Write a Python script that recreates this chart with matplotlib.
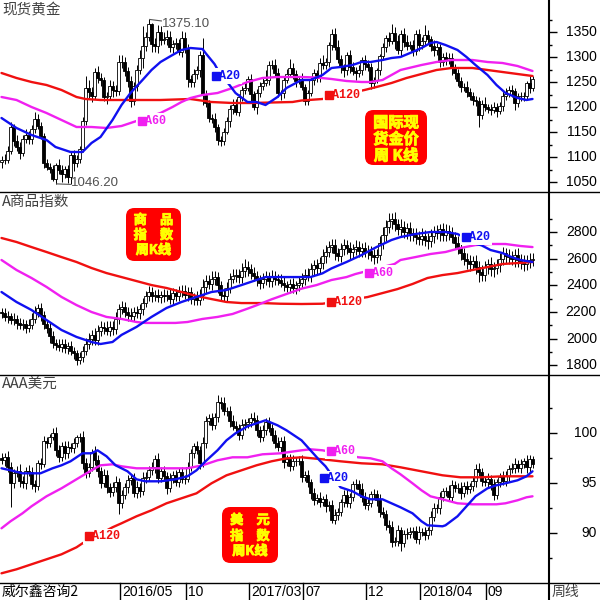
import numpy as np
import pandas as pd
import matplotlib
matplotlib.use("Agg")
import matplotlib.pyplot as plt
from matplotlib.patches import FancyBboxPatch
from matplotlib.lines import Line2D
import matplotlib.patheffects as pe

plt.rcParams["font.family"] = ["Noto Sans CJK SC", "DejaVu Sans"]

# ---------------- data (weekly bars, first week ends 2015-07-31) ----------------
first_week = "2015-07-31"

gold_open0 = 1090
gold_close = [1094, 1094, 1113, 1160, 1133, 1121, 1108, 1137, 1145, 1137,
              1156, 1177, 1162, 1142, 1088, 1081, 1076, 1057, 1084, 1075,
              1066, 1076, 1061, 1104, 1089, 1097, 1117, 1173, 1239, 1231,
              1222, 1271, 1259, 1255, 1220, 1222, 1243, 1234, 1232, 1291,
              1290, 1273, 1252, 1212, 1243, 1275, 1298, 1322, 1340, 1366,
              1327, 1323, 1350, 1335, 1336, 1341, 1321, 1326, 1328, 1310,
              1338, 1316, 1257, 1251, 1267, 1275, 1304, 1225, 1208, 1178,
              1177, 1160, 1134, 1132, 1151, 1173, 1196, 1204, 1191, 1220,
              1234, 1238, 1257, 1226, 1201, 1229, 1243, 1249, 1254, 1285,
              1284, 1268, 1228, 1228, 1254, 1267, 1279, 1266, 1253, 1256,
              1241, 1212, 1228, 1254, 1269, 1258, 1289, 1285, 1291, 1325,
              1346, 1320, 1297, 1280, 1275, 1304, 1280, 1272, 1269, 1274,
              1294, 1287, 1280, 1248, 1255, 1275, 1303, 1320, 1338, 1332,
              1349, 1333, 1315, 1347, 1330, 1322, 1324, 1313, 1347, 1325,
              1332, 1345, 1336, 1323, 1314, 1320, 1291, 1301, 1294, 1298,
              1278, 1269, 1252, 1241, 1241, 1231, 1223, 1214, 1212, 1184,
              1206, 1201, 1197, 1194, 1200, 1192, 1203, 1222, 1227, 1234,
              1232, 1209, 1222, 1223, 1222, 1248, 1238, 1257]
gold_up = [8, 12, 10, 10, 6, 12, 9, 8, 11, 7,
           8, 14, 10, 8, 6, 9, 7, 8, 5, 12,
           9, 6, 8, 8, 11, 8, 6, 7, 24, 15,
           10, 8, 12, 10, 6, 8, 12, 9, 10, 14,
           14, 10, 8, 10, 8, 10, 17, 40, 11, 9.1,
           3, 12, 15, 12, 15, 13, 12, 9, 10, 8,
           14, 12, 10, 8, 9, 8, 9, 34, 10, 7,
           9, 11, 7, 8, 7, 8, 8, 12, 12, 6,
           8, 10, 6, 10, 7, 7, 8, 12, 20, 8,
           9, 12, 10, 6, 9, 9, 17, 10, 8, 7,
           12, 6, 7, 6, 8, 6, 9, 15, 7, 5,
           11, 12, 14, 8, 6, 6, 10, 10, 8, 10,
           6, 10, 8, 8, 6, 4, 4, 8, 6, 12,
           17, 12, 12, 8, 11, 14, 8, 10, 8, 9,
           8, 20, 10, 7, 12, 8, 6, 7, 9, 10,
           10, 8, 8, 8, 7, 12, 8, 7, 8, 8,
           8, 14, 6, 9, 10, 9, 8, 11, 12, 9,
           11, 6, 7, 8, 8, 4, 14, 6]
gold_dn = [12, 8, 6, 6, 10, 8, 12, 6, 8, 10,
           10, 8, 6, 6, 10, 7, 8, 4, 10.8, 8,
           15, 8, 12, 14, 16, 8, 8, 6, 8, 12,
           12, 6, 10, 12, 8, 14, 6, 14, 10, 8,
           12, 10, 12, 12, 7, 10, 8, 20, 10, 8,
           17, 12, 14, 10, 8, 12, 10, 12, 10, 6,
           10, 8, 16, 10, 10, 10, 14, 20, 8, 8,
           9, 10, 10, 10, 7, 5, 12, 10, 7, 8,
           8, 8, 6, 14, 6, 14, 8, 8, 6, 10,
           8, 8, 8, 14, 10, 6, 6, 10, 12, 6,
           6, 8, 8, 6, 10, 8, 8, 8, 9, 10,
           10, 6, 8, 12, 15, 10, 12, 8, 14, 8,
           10, 12, 8, 12, 10, 6, 10, 8, 10, 10,
           6, 16, 8, 12, 10, 8, 6, 10, 8, 12,
           8, 10, 10, 10, 12, 10, 10, 8, 10, 8,
           14, 12, 10, 10, 8, 10, 8, 10, 10, 24,
           8, 8, 8, 10, 6, 12, 6, 10, 8, 6,
           12, 14, 8, 10, 10, 6, 10, 6]
gold_peak_week, gold_peak = 49, 1375.10
gold_low_week, gold_low = 18, 1046.20

gold_ma20_wk = [0, 5, 10, 15, 18, 23, 27, 30, 33, 37, 40, 43, 47, 50, 53, 57, 60, 63, 67, 68,
                71, 73, 76, 78, 82, 85, 88, 92, 95, 100, 103, 107, 110, 113, 117, 120, 123,
                127, 130, 133, 137, 140, 143, 145, 148, 152, 155, 158, 162, 165, 168, 172,
                175, 177]
gold_ma20 = [1178, 1158, 1144, 1134, 1120, 1110, 1110, 1128, 1140, 1174, 1204, 1228, 1254,
             1274, 1290, 1304, 1314, 1318, 1316, 1308, 1286, 1265, 1244, 1228, 1210, 1210,
             1204, 1220, 1238, 1254, 1254, 1264, 1278, 1280, 1284, 1290, 1290, 1294, 1298,
             1300, 1310, 1318, 1328, 1330, 1324, 1314, 1300, 1284, 1264, 1244, 1228, 1218,
             1214, 1216]
gold_ma60_wk = [0, 5, 10, 15, 20, 25, 30, 35, 40, 43, 48, 53, 57, 60, 63, 67, 72, 77, 82, 87,
                92, 97, 100, 105, 110, 115, 120, 123, 127, 130, 133, 140, 145, 150, 157, 162,
                167, 172, 177]
gold_ma60 = [1220, 1214, 1200, 1188, 1174, 1160, 1160, 1158, 1162, 1168, 1178, 1188, 1200,
             1210, 1218, 1224, 1228, 1238, 1250, 1258, 1260, 1260, 1260, 1259, 1256, 1252,
             1250, 1250, 1254, 1264, 1274, 1284, 1290, 1294, 1294, 1290, 1288, 1282, 1272]
gold_ma120_wk = [0, 5, 10, 15, 20, 25, 28, 33, 43, 53, 63, 70, 77, 83, 90, 97, 100, 107, 114,
                 121, 125, 130, 135, 140, 145, 150, 157, 162, 167, 172, 177]
gold_ma120 = [1268, 1258, 1250, 1244, 1234, 1220, 1216, 1214, 1214, 1214, 1216, 1210, 1208,
              1208, 1209, 1210, 1213, 1216, 1225, 1234, 1240, 1248, 1258, 1266, 1274, 1278,
              1278, 1274, 1270, 1266, 1262]

cmd_open0 = 2200
cmd_close = [2190, 2160, 2170, 2140, 2150, 2120, 2100, 2110, 2080, 2100,
             2150, 2200, 2230, 2180, 2110, 2080, 2020, 1970, 1950, 1940,
             1960, 1930, 1945, 1910, 1890, 1840, 1860, 1910, 1960, 2000,
             2030, 1990, 2060, 2090, 2080, 2060, 2090, 2070, 2150, 2220,
             2240, 2200, 2180, 2170, 2200, 2190, 2220, 2270, 2320, 2350,
             2320, 2330, 2310, 2330, 2320, 2330, 2300, 2340, 2320, 2350,
             2360, 2330, 2350, 2300, 2310, 2290, 2330, 2390, 2430, 2410,
             2450, 2460, 2400, 2330, 2320, 2380, 2450, 2470, 2480, 2460,
             2510, 2540, 2520, 2490, 2470, 2440, 2420, 2450, 2460, 2430,
             2470, 2450, 2440, 2420, 2400, 2390, 2410, 2380, 2400, 2420,
             2450, 2480, 2470, 2520, 2550, 2530, 2570, 2620, 2650, 2690,
             2700, 2640, 2620, 2670, 2700, 2680, 2650, 2670, 2690, 2660,
             2680, 2650, 2660, 2630, 2610, 2630, 2720, 2780, 2840, 2880,
             2900, 2860, 2820, 2840, 2800, 2830, 2790, 2780, 2760, 2750,
             2770, 2740, 2730, 2770, 2800, 2790, 2820, 2780, 2810, 2790,
             2760, 2720, 2690, 2640, 2600, 2580, 2560, 2580, 2540, 2500,
             2480, 2540, 2560, 2520, 2530, 2550, 2600, 2640, 2620, 2610,
             2600, 2630, 2590, 2570, 2560, 2580, 2590, 2600]
cmd_up = [30, 40, 35, 25, 45, 30, 35, 40, 30, 50,
          40, 45, 30, 35, 25, 30, 40, 35, 30, 45,
          35, 40, 30, 35, 30, 25, 40, 35, 45, 40,
          35, 50, 40, 45, 35, 50, 40, 45, 50, 40,
          45, 35, 40, 50, 35, 45, 40, 35, 40, 45,
          40, 35, 45, 30, 40, 35, 50, 40, 35, 45,
          40, 45, 35, 40, 30, 45, 40, 55, 50, 45,
          60, 45, 40, 35, 50, 45, 40, 50, 45, 40,
          55, 60, 45, 40, 45, 35, 40, 45, 50, 40,
          45, 40, 35, 45, 40, 35, 40, 45, 35, 40,
          45, 40, 50, 45, 40, 50, 45, 50, 55, 45,
          50, 45, 40, 50, 45, 40, 45, 40, 50, 45,
          40, 45, 40, 35, 40, 45, 50, 55, 50, 60,
          45, 50, 40, 55, 45, 40, 45, 40, 50, 45,
          60, 45, 50, 55, 45, 50, 40, 45, 50, 40,
          45, 40, 50, 45, 40, 45, 50, 40, 45, 40,
          50, 45, 40, 55, 45, 50, 40, 45, 40, 50,
          45, 40, 50, 45, 60, 45, 50, 40]
cmd_dn = [35, 30, 40, 30, 35, 45, 30, 35, 40, 30,
          30, 35, 40, 45, 40, 35, 50, 40, 35, 30,
          40, 35, 45, 30, 40, 35, 30, 35, 30, 40,
          45, 40, 35, 40, 45, 35, 40, 45, 35, 40,
          35, 40, 45, 35, 40, 35, 40, 45, 35, 40,
          45, 40, 35, 40, 45, 35, 40, 45, 35, 40,
          40, 35, 45, 40, 45, 40, 35, 40, 45, 40,
          45, 50, 55, 45, 40, 45, 40, 35, 45, 40,
          40, 45, 50, 45, 40, 45, 50, 40, 45, 40,
          40, 45, 40, 35, 45, 40, 45, 40, 45, 40,
          40, 45, 40, 45, 40, 45, 40, 45, 50, 40,
          45, 50, 40, 45, 40, 45, 50, 45, 40, 45,
          45, 40, 50, 45, 50, 45, 40, 45, 50, 45,
          55, 50, 45, 50, 45, 50, 55, 45, 50, 45,
          50, 45, 55, 45, 50, 45, 55, 50, 45, 50,
          45, 50, 55, 50, 45, 60, 50, 45, 55, 75,
          50, 45, 55, 50, 60, 45, 50, 45, 55, 50,
          45, 60, 50, 45, 55, 45, 50, 45]

cmd_ma20_wk = [0, 5, 10, 15, 20, 25, 30, 33, 37, 40, 45, 50, 55, 60, 65, 70, 75, 80, 85, 88,
               93, 100, 103, 107, 110, 115, 120, 125, 130, 133, 138, 143, 148, 152, 155, 157,
               160, 163, 167, 170, 173, 177]
cmd_ma20 = [2350, 2275, 2215, 2140, 2065, 2013, 1975, 1960, 1975, 2028, 2088, 2163, 2230,
            2275, 2313, 2350, 2365, 2402, 2440, 2462, 2462, 2462, 2462, 2490, 2527, 2575,
            2627, 2687, 2740, 2762, 2785, 2800, 2800, 2785, 2750, 2717, 2700, 2665, 2642,
            2612, 2590, 2575]
cmd_ma60_wk = [0, 5, 10, 15, 20, 25, 30, 35, 40, 45, 48, 53, 58, 62, 67, 72, 77, 82, 85, 90,
               95, 100, 105, 110, 115, 118, 131, 133, 138, 143, 148, 153, 158, 163, 168, 173,
               177]
cmd_ma60 = [2590, 2515, 2455, 2388, 2313, 2252, 2200, 2163, 2148, 2125, 2118, 2118, 2118,
            2125, 2148, 2163, 2185, 2225, 2250, 2295, 2335, 2375, 2402, 2440, 2462, 2485,
            2560, 2590, 2612, 2635, 2650, 2680, 2702, 2710, 2710, 2695, 2687]
cmd_ma120_wk = [0, 5, 10, 15, 20, 25, 30, 35, 40, 45, 50, 55, 60, 65, 70, 75, 80, 87, 93, 100,
                107, 122, 127, 132, 137, 142, 147, 152, 157, 162, 167, 172, 177]
cmd_ma120 = [2755, 2725, 2687, 2650, 2612, 2575, 2530, 2492, 2462, 2432, 2402, 2380, 2350,
             2320, 2297, 2275, 2267, 2267, 2262, 2260, 2262, 2312, 2342, 2372, 2410, 2455,
             2477, 2492, 2515, 2537, 2560, 2567, 2575]

usd_open0 = 97.5
usd_close = [97.3, 97.6, 96.6, 95.0, 96.0, 96.2, 95.2, 95.0, 96.2, 96.1,
             94.9, 94.7, 97.0, 96.9, 99.2, 99.0, 99.6, 100.0, 98.3, 97.6,
             98.7, 98.0, 98.6, 98.5, 99.0, 99.6, 99.6, 97.0, 96.0, 96.6,
             98.1, 97.3, 96.2, 95.0, 95.8, 94.6, 94.1, 94.6, 95.1, 93.0,
             93.8, 94.6, 95.3, 95.5, 94.0, 94.6, 94.2, 95.5, 95.6, 96.3,
             96.6, 97.4, 95.5, 96.2, 95.7, 94.5, 95.5, 95.8, 95.1, 96.1,
             95.4, 95.4, 96.6, 98.0, 98.7, 98.3, 97.0, 99.0, 101.2, 101.5,
             100.8, 101.6, 103.1, 103.0, 102.2, 102.2, 101.2, 100.7, 100.5, 99.8,
             100.8, 100.9, 101.1, 101.5, 101.3, 100.3, 99.6, 100.3, 101.1, 100.5,
             99.8, 99.0, 98.6, 99.2, 97.1, 97.4, 96.7, 97.2, 97.2, 97.2,
             95.6, 95.8, 95.1, 94.0, 93.3, 93.5, 93.1, 93.4, 92.7, 92.8,
             91.3, 91.8, 92.1, 93.1, 93.8, 93.0, 93.6, 94.9, 94.9, 94.4,
             93.6, 92.8, 93.0, 93.9, 93.9, 93.3, 92.1, 91.9, 90.8, 90.6,
             89.1, 89.2, 90.3, 89.0, 89.9, 89.9, 90.1, 90.2, 89.4, 90.1,
             90.1, 89.8, 90.3, 91.6, 92.5, 92.5, 93.6, 94.2, 94.2, 93.6,
             94.8, 94.5, 94.5, 94.0, 94.7, 94.4, 94.7, 95.2, 96.4, 96.1,
             95.2, 95.1, 95.4, 94.9, 93.8, 95.1, 95.6, 95.2, 95.7, 96.4,
             96.5, 96.9, 96.5, 96.9, 97.2, 96.6, 97.4, 96.9]
usd_up = [0.5, 0.4, 0.6, 0.5, 0.4, 0.5, 0.7, 0.5, 0.4, 0.6,
          0.5, 0.4, 0.3, 0.5, 0.5, 0.4, 0.3, 0.5, 0.6, 0.5,
          0.4, 0.5, 0.6, 0.4, 0.5, 0.2, 0.4, 0.6, 0.5, 0.4,
          0.3, 0.6, 0.5, 0.4, 0.6, 0.5, 0.4, 0.5, 0.6, 0.4,
          0.5, 0.4, 0.5, 0.3, 0.5, 0.6, 0.4, 0.6, 0.5, 0.4,
          0.5, 0.4, 0.6, 0.4, 0.5, 0.4, 0.5, 0.4, 0.5, 0.4,
          0.5, 0.4, 0.5, 0.4, 0.3, 0.5, 0.4, 0.6, 0.5, 0.4,
          0.5, 0.4, 0.7, 0.5, 0.6, 0.4, 0.5, 0.6, 0.5, 0.4,
          0.6, 0.5, 0.4, 0.5, 0.6, 0.5, 0.4, 0.5, 0.4, 0.5,
          0.4, 0.5, 0.6, 0.4, 0.5, 0.4, 0.5, 0.6, 0.4, 0.5,
          0.6, 0.4, 0.5, 0.3, 0.5, 0.4, 0.6, 0.3, 0.5, 0.4,
          0.5, 0.6, 0.4, 0.3, 0.5, 0.6, 0.4, 0.3, 0.5, 0.4,
          0.6, 0.5, 0.4, 0.3, 0.5, 0.4, 0.6, 0.5, 0.4, 0.5,
          0.6, 0.4, 0.5, 0.3, 0.4, 0.6, 0.5, 0.4, 0.5, 0.6,
          0.4, 0.5, 0.3, 0.6, 0.5, 0.4, 0.5, 0.3, 0.4, 0.6,
          0.5, 0.4, 0.5, 0.6, 0.4, 0.5, 0.3, 0.4, 0.5, 0.6,
          0.4, 0.5, 0.6, 0.4, 0.5, 0.3, 0.4, 0.6, 0.5, 0.4,
          0.5, 0.6, 0.4, 0.5, 0.3, 0.6, 0.4, 0.3]
usd_dn = [0.4, 0.6, 0.5, 2.4, 0.5, 0.4, 0.6, 0.5, 0.6, 0.4,
          0.5, 0.6, 0.4, 0.5, 0.3, 0.5, 0.4, 0.3, 0.6, 0.5,
          0.4, 0.6, 0.5, 0.4, 0.5, 0.4, 0.5, 0.6, 0.5, 0.4,
          0.4, 0.5, 0.6, 0.5, 0.4, 0.6, 0.5, 0.4, 0.5, 1.1,
          0.5, 0.4, 0.6, 0.5, 0.4, 0.5, 0.6, 0.4, 0.5, 0.4,
          0.5, 0.6, 0.5, 0.4, 0.5, 0.6, 0.4, 0.5, 0.4, 0.5,
          0.4, 0.5, 0.3, 0.4, 0.5, 0.4, 0.6, 0.4, 0.5, 0.4,
          0.5, 0.4, 0.5, 0.6, 0.4, 0.5, 0.6, 0.4, 0.5, 0.5,
          0.4, 0.5, 0.4, 0.5, 0.4, 0.6, 0.5, 0.4, 0.5, 0.4,
          0.6, 0.5, 0.4, 0.5, 0.6, 0.4, 0.5, 0.4, 0.5, 0.4,
          0.5, 0.4, 0.5, 0.6, 0.5, 0.4, 0.5, 0.4, 0.6, 0.5,
          0.3, 0.4, 0.5, 0.4, 0.5, 0.4, 0.5, 0.4, 0.5, 0.6,
          0.5, 0.4, 0.5, 0.4, 0.5, 0.6, 0.5, 0.4, 0.5, 0.6,
          0.5, 0.4, 0.5, 0.75, 0.4, 0.5, 0.4, 0.6, 0.4, 0.5,
          0.4, 0.5, 0.4, 0.5, 0.4, 0.5, 0.6, 0.4, 0.5, 0.4,
          0.5, 0.4, 0.5, 0.6, 0.4, 0.5, 0.4, 0.5, 0.6, 0.4,
          0.5, 0.4, 0.5, 0.6, 0.5, 0.4, 0.5, 0.4, 0.5, 0.6,
          0.4, 0.5, 0.4, 0.5, 0.4, 0.6, 0.5, 0.4]

usd_ma20_wk = [0, 3, 7, 10, 13, 17, 20, 23, 27, 30, 32, 35, 38, 42, 45, 48, 53, 58, 62, 65,
               68, 72, 75, 78, 82, 85, 88, 92, 95, 100, 103, 106, 108, 113, 117, 120, 123,
               127, 130, 133, 137, 140, 142, 147, 148, 152, 155, 158, 162, 165, 168, 172,
               175, 177]
usd_ma20 = [96.5, 96.3, 96.0, 96.0, 96.0, 96.5, 96.8, 97.2, 98.0, 98.0, 98.3, 97.7, 96.8,
            96.2, 95.4, 95.2, 95.2, 95.4, 95.7, 96.3, 97.2, 98.3, 99.3, 100.0, 100.7, 101.0,
            101.3, 100.8, 100.3, 99.3, 98.3, 97.3, 96.7, 94.6, 94.2, 93.7, 93.4, 93.4, 93.0,
            92.6, 92.0, 91.2, 90.8, 90.7, 90.8, 91.7, 92.7, 93.7, 94.5, 94.8, 95.0, 95.3,
            95.7, 96.2]
usd_ma60_wk = [0, 3, 7, 10, 15, 20, 25, 30, 33, 37, 40, 45, 50, 57, 62, 67, 72, 77, 82, 87,
               93, 100, 103, 107, 119, 123, 127, 130, 133, 137, 140, 143, 147, 152, 157, 162,
               165, 168, 172, 175, 177]
usd_ma60 = [90.5, 91.2, 92.0, 92.7, 93.7, 94.5, 95.4, 96.3, 96.8, 96.9, 96.7, 96.5, 96.5,
            96.5, 96.5, 96.8, 97.3, 97.6, 97.6, 97.9, 98.0, 98.3, 98.4, 98.3, 97.6, 97.5,
            97.2, 96.5, 95.9, 95.0, 94.3, 93.7, 93.4, 93.0, 92.9, 92.9, 92.9, 93.0, 93.3,
            93.6, 93.7]
usd_ma120_wk = [0, 5, 10, 15, 20, 25, 27, 37, 40, 45, 50, 55, 60, 65, 70, 75, 80, 85, 90, 95,
                100, 107, 113, 120, 127, 133, 140, 147, 153, 160, 167, 173, 177]
usd_ma120 = [86.0, 86.4, 86.9, 87.4, 87.9, 88.6, 89.0, 90.6, 91.0, 91.7, 92.3, 93.0, 93.5,
             94.0, 95.0, 95.8, 96.3, 96.8, 97.2, 97.5, 97.6, 97.4, 97.2, 97.0, 96.9, 96.6,
             96.2, 95.8, 95.6, 95.6, 95.7, 95.7, 95.7]

date_marks = ["2016-05", "2016-10", "2017-03", "2017-07", "2017-12", "2018-04", "2018-09"]
date_texts = ["2016/05", "10", "2017/03", "07", "12", "2018/04", "09"]

# ---------------- layout (pixel geometry of the 600x600 picture) ----------------
W = H = 600
RIGHT = 549
C_BLUE, C_MAG, C_RED = "#1010f0", "#f020f0", "#f01010"
MA_FONT = ["Liberation Mono", "DejaVu Sans Mono"]

fig = plt.figure(figsize=(6, 6), dpi=100)
fig.patch.set_facecolor("white")


def px_axes(top, bottom):
    return fig.add_axes([0, 1 - bottom / H, RIGHT / W, (bottom - top) / H])


def setup(ax, ylim, major, minor):
    ax.set_xlim(-0.5, RIGHT / 3 - 0.5)
    ax.set_ylim(*ylim)
    for s in ax.spines.values():
        s.set_visible(False)
    ax.set_xticks([])
    ax.set_yticks(major)
    ax.set_yticks(minor, minor=True)
    ax.tick_params(axis="y", which="both", left=False, right=True, labelleft=False,
                   labelright=False, direction="out")
    ax.tick_params(axis="y", which="major", length=6, width=1)
    ax.tick_params(axis="y", which="minor", length=2, width=1)
    for v in major:
        ax.text(597 / RIGHT, v, f"{v}", transform=ax.get_yaxis_transform(), ha="right",
                va="center", fontsize=10, family="Liberation Sans", color="black")


def candles(ax, close, open0, up, dn):
    c = np.asarray(close, float)
    o = np.r_[open0, c[:-1]]
    hi = np.maximum(o, c) + np.asarray(up, float)
    lo = np.minimum(o, c) - np.asarray(dn, float)
    x = np.arange(len(c))
    ax.vlines(x, lo, hi, color="black", lw=0.7, zorder=2)
    body = np.abs(c - o)
    rise = c >= o
    ax.bar(x[rise], body[rise], 0.72, bottom=o[rise], color="white", edgecolor="black",
           linewidth=0.6, zorder=3)
    ax.bar(x[~rise], body[~rise], 0.72, bottom=c[~rise], color="black", edgecolor="black",
           linewidth=0.6, zorder=3)


def ma_lines(ax, series):
    for wk, vals, col in series:
        ax.plot(wk, vals, color=col, lw=1.7, zorder=4, solid_capstyle="round")


def ma_label(ax, wk, val, txt, col):
    # white-backed label " A20"; the leading block glyph is a square marker
    ax.text(wk, val, " " + txt, color=col, fontsize=8.5, fontweight="bold", family=MA_FONT,
            ha="left", va="center", zorder=5,
            bbox=dict(boxstyle="square,pad=0.15", fc="white", ec="none"))
    ax.plot([wk + 1.2], [val], marker="s", ms=5.6, color=col, mec=col, ls="none", zorder=6)


def red_box(x0, y0, x1, y1, lines, centers, size):
    fig.add_artist(FancyBboxPatch((x0 / W, 1 - y1 / H), (x1 - x0) / W, (y1 - y0) / H,
                                  boxstyle="round,pad=0,rounding_size=0.014",
                                  fc="#ff0000", ec="none", transform=fig.transFigure,
                                  zorder=6))
    for s, yc in zip(lines, centers):
        fig.text((x0 + x1) / 2 / W, 1 - yc / H, s, ha="center", va="center",
                 color="#ffff00", fontsize=size, fontweight="bold", zorder=7,
                 path_effects=[pe.withStroke(linewidth=0.6, foreground="#ffff00")])


# ---------------- panel 1: gold ----------------
ax1 = px_axes(0, 192)
setup(ax1, (1030, 1414), list(range(1050, 1351, 50)), list(range(1075, 1376, 50)))
candles(ax1, gold_close, gold_open0, gold_up, gold_dn)
ma_lines(ax1, [(gold_ma120_wk, gold_ma120, C_RED), (gold_ma60_wk, gold_ma60, C_MAG),
               (gold_ma20_wk, gold_ma20, C_BLUE)])
ma_label(ax1, 70.3, 1262, "A20", C_BLUE)
ma_label(ax1, 45.5, 1172, "A60", C_MAG)
ma_label(ax1, 107.8, 1224, "A120", C_RED)
ax1.plot([gold_peak_week + 0.4, gold_peak_week + 4.3], [gold_peak, gold_peak - 3],
         color="#555555", lw=0.8, zorder=5)
ax1.text(gold_peak_week + 4.6, gold_peak - 10, f"{gold_peak:.2f}", color="#505050",
         fontsize=9.5, family="Liberation Sans", va="center", ha="left", zorder=5)
ax1.plot([gold_low_week + 0.4, gold_low_week + 5.0], [gold_low, gold_low - 1],
         color="#555555", lw=0.8, zorder=5)
ax1.text(gold_low_week + 5.3, gold_low + 1, f"{gold_low:.2f}", color="#505050",
         fontsize=9.5, family="Liberation Sans", va="center", ha="left", zorder=5)

# ---------------- panel 2: commodity index ----------------
ax2 = px_axes(192, 375)
setup(ax2, (1727.5, 3100), list(range(1800, 2801, 200)), list(range(1900, 2901, 200)))
candles(ax2, cmd_close, cmd_open0, cmd_up, cmd_dn)
ma_lines(ax2, [(cmd_ma120_wk, cmd_ma120, C_RED), (cmd_ma60_wk, cmd_ma60, C_MAG),
               (cmd_ma20_wk, cmd_ma20, C_BLUE)])
ma_label(ax2, 153.5, 2762, "A20", C_BLUE)
ma_label(ax2, 121.2, 2492, "A60", C_MAG)
ma_label(ax2, 108.5, 2275, "A120", C_RED)

# ---------------- panel 3: US dollar index ----------------
ax3 = px_axes(375, 583)
setup(ax3, (85.03, 105.83), [90, 95, 100], [87.5, 92.5, 97.5, 102.5])
candles(ax3, usd_close, usd_open0, usd_up, usd_dn)
ma_lines(ax3, [(usd_ma120_wk, usd_ma120, C_RED), (usd_ma60_wk, usd_ma60, C_MAG),
               (usd_ma20_wk, usd_ma20, C_BLUE)])
ma_label(ax3, 106.2, 95.5, "A20", C_BLUE)
ma_label(ax3, 108.5, 98.2, "A60", C_MAG)
ma_label(ax3, 27.8, 89.7, "A120", C_RED)

# ---------------- frame lines ----------------
fig.add_artist(Line2D([RIGHT / W] * 2, [0, 1], color="black", lw=1.5,
                      transform=fig.transFigure, zorder=8))
for ypx in (192, 375, 583):
    fig.add_artist(Line2D([0, 1], [1 - ypx / H] * 2, color="black", lw=1.0,
                          transform=fig.transFigure, zorder=8))

# ---------------- titles ----------------
for ypx, title in ((10, "现货黄金"), (202, "A商品指数"), (384, "AAA美元")):
    fig.text(2 / W, 1 - ypx / H, title, ha="left", va="center", fontsize=10.5,
             color="#404040", zorder=8)

# ---------------- bottom date strip ----------------
weeks = pd.date_range(first_week, periods=len(gold_close), freq="7D")
ym = np.array(weeks.strftime("%Y-%m"))
yb = 1 - 592 / H
fig.text(2 / W, yb, "威尔鑫咨询2", ha="left", va="center", fontsize=10, color="black")
for m, t in zip(date_marks, date_texts):
    k = int(np.argmax(ym == m))
    xpx = 3 * k
    fig.add_artist(Line2D([xpx / W] * 2, [0, 1 - 583 / H], color="black", lw=1.0,
                          transform=fig.transFigure))
    fig.text((xpx + 2) / W, yb, t, ha="left", va="center", fontsize=10,
             family=["Liberation Sans", "DejaVu Sans"], color="black")
fig.text(552 / W, yb, "周线", ha="left", va="center", fontsize=10, color="#404040")

# ---------------- red caption boxes ----------------
red_box(365, 110, 427, 165, ["国际现", "货金价", "周 K线"], [122.5, 139, 155.5], 11)
red_box(126, 208, 181, 261, ["商\u3000品", "指\u3000数", "周K线"], [220, 235, 250], 9.5)
red_box(222, 507, 278, 563, ["美\u3000元", "指\u3000数", "周K线"], [520, 536, 551], 9.5)

fig.savefig("out.png", dpi=100, facecolor="white")
